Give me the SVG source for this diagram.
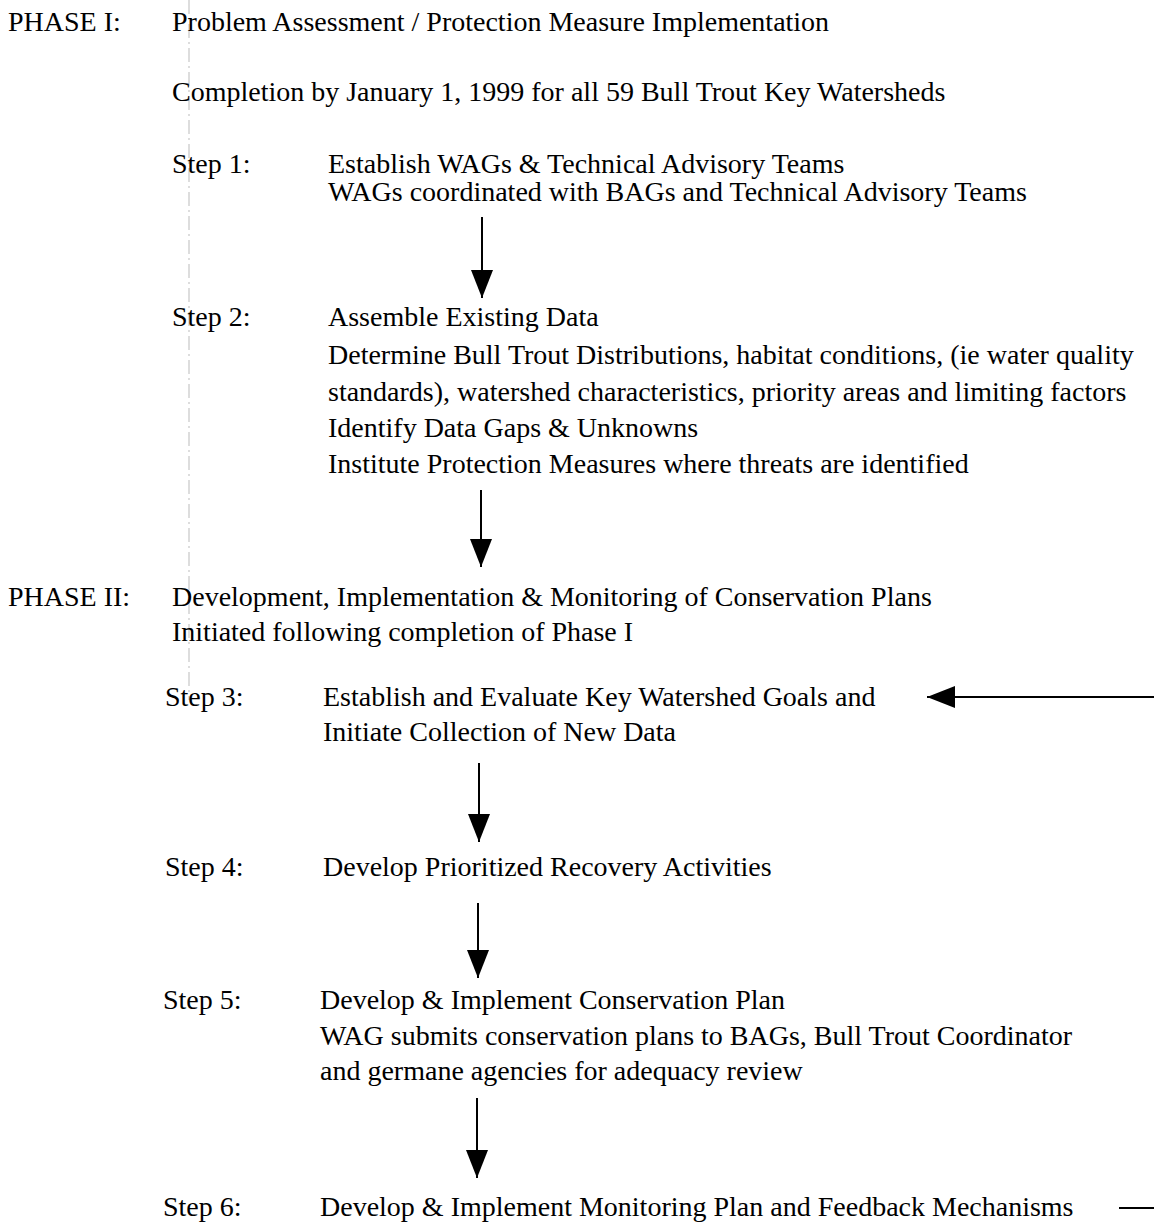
<svg xmlns="http://www.w3.org/2000/svg" width="1154" height="1224" viewBox="0 0 1154 1224">
<style>
text{font-family:"Liberation Serif","Times New Roman",serif;font-size:28px;fill:#000}
.c{stroke:#000;stroke-width:2;fill:none}
.g{stroke:#bbb;stroke-width:1;stroke-dasharray:14 4 2 4;fill:none}
</style>
<defs>
<marker id="ah" viewBox="0 0 28 22" refX="28" refY="11" markerWidth="28" markerHeight="22" markerUnits="userSpaceOnUse" orient="auto">
<path d="M0,0 L28,11 L0,22 Z" fill="#000"/>
</marker>
</defs>
<rect width="1154" height="1224" fill="#fff"/>
<path class="g" d="M189,0 V700"/>
<g id="phase1">
<text x="8" y="31">PHASE I:</text>
<text x="172" y="31">Problem Assessment / Protection Measure Implementation</text>
<text x="172" y="101">Completion by January 1, 1999 for all 59 Bull Trout Key Watersheds</text>
</g>
<g id="step1">
<text x="172" y="173">Step 1:</text>
<text x="328" y="173">Establish WAGs &amp; Technical Advisory Teams</text>
<text x="328" y="201">WAGs coordinated with BAGs and Technical Advisory Teams</text>
</g>
<g id="step2">
<text x="172" y="326">Step 2:</text>
<text x="328" y="326">Assemble Existing Data</text>
<text x="328" y="364">Determine Bull Trout Distributions, habitat conditions, (ie water quality</text>
<text x="328" y="401">standards), watershed characteristics, priority areas and limiting factors</text>
<text x="328" y="437">Identify Data Gaps &amp; Unknowns</text>
<text x="328" y="473">Institute Protection Measures where threats are identified</text>
</g>
<g id="phase2">
<text x="8" y="606">PHASE II:</text>
<text x="172" y="606">Development, Implementation &amp; Monitoring of Conservation Plans</text>
<text x="172" y="641">Initiated following completion of Phase I</text>
</g>
<g id="step3">
<text x="165" y="706">Step 3:</text>
<text x="323" y="706">Establish and Evaluate Key Watershed Goals and</text>
<text x="323" y="741">Initiate Collection of New Data</text>
</g>
<g id="step4">
<text x="165" y="876">Step 4:</text>
<text x="323" y="876">Develop Prioritized Recovery Activities</text>
</g>
<g id="step5">
<text x="163" y="1009">Step 5:</text>
<text x="320" y="1009">Develop &amp; Implement Conservation Plan</text>
<text x="320" y="1045">WAG submits conservation plans to BAGs, Bull Trout Coordinator</text>
<text x="320" y="1080">and germane agencies for adequacy review</text>
</g>
<g id="step6">
<text x="163" y="1216">Step 6:</text>
<text x="320" y="1216">Develop &amp; Implement Monitoring Plan and Feedback Mechanisms</text>
</g>
<g id="connectors">
<path class="c" d="M482,217 V298" marker-end="url(#ah)"/>
<path class="c" d="M481,490 V567" marker-end="url(#ah)"/>
<path class="c" d="M479,763 V842" marker-end="url(#ah)"/>
<path class="c" d="M478,903 V978" marker-end="url(#ah)"/>
<path class="c" d="M477,1098 V1178" marker-end="url(#ah)"/>
<path class="c" d="M1154,697 H927" marker-end="url(#ah)"/>
<path class="c" d="M1119,1208 H1154"/>
</g>
</svg>
